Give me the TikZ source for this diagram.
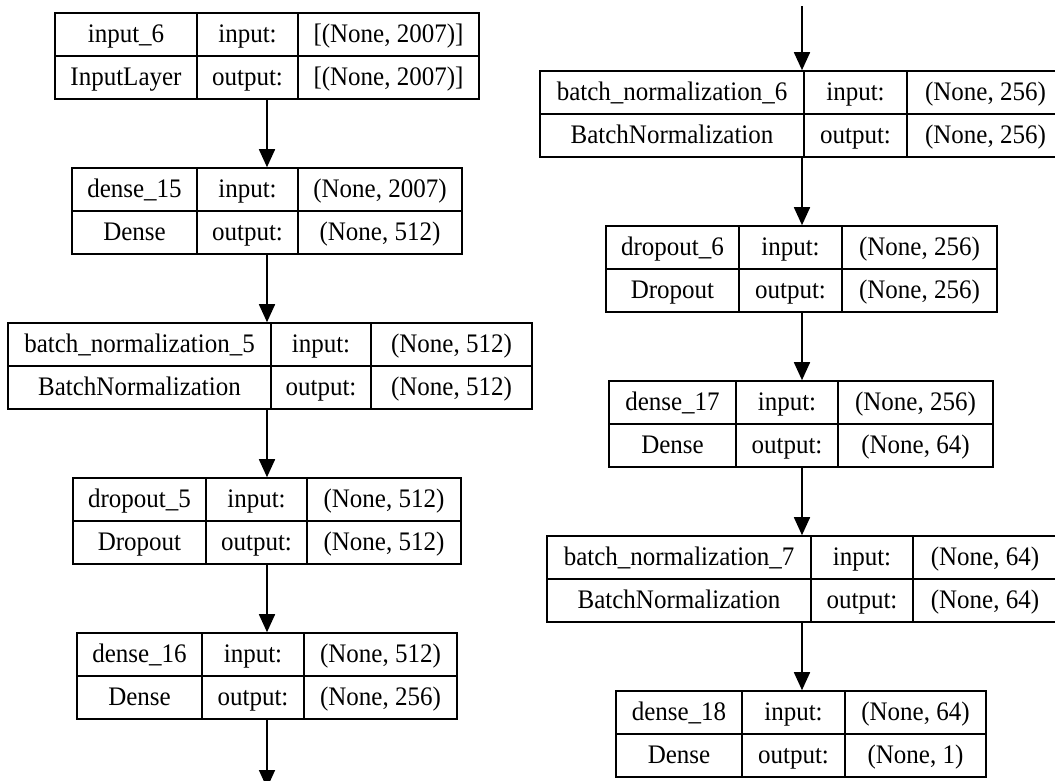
\documentclass[tikz,border=0pt]{standalone}
\usepackage{fontspec}
\setmainfont{Liberation Serif}
\usetikzlibrary{arrows.meta}
\newcommand\celltext[1]{\scalebox{1}[1.07]{#1}}
\tikzset{
  layerbox/.style={draw=black, line width=1.6pt, rectangle, inner sep=0pt, minimum height=86pt},
  cell/.style={anchor=base, inner sep=0pt, font=\fontsize{25}{30}\selectfont},
  divider/.style={line width=1.6pt},
  flow/.style={line width=1.7pt, -{Triangle[length=18pt,width=16pt]}},
}
\begin{document}
\begin{tikzpicture}[x=1pt,y=-1pt]
\useasboundingbox (0,0) rectangle (1055,780);
\clip (0,0) rectangle (1055,780);
\fill[white] (0,0) rectangle (1055,780);
\foreach \n/\xl/\da/\db/\xr/\yt/\nm/\ty/\ins/\outs in {
  L1/55/197/298/479/13/input\_6/InputLayer/{[(None, 2007)]}/{[(None, 2007)]},
  L2/72/197/298/462/168/dense\_15/Dense/{(None, 2007)}/{(None, 512)},
  L3/8/271/371/532/323/batch\_normalization\_5/BatchNormalization/{(None, 512)}/{(None, 512)},
  L4/73/206/307/461/478/dropout\_5/Dropout/{(None, 512)}/{(None, 512)},
  L5/77/202/304/457/633/dense\_16/Dense/{(None, 512)}/{(None, 256)},
  R6/540/804/907/1064/71/batch\_normalization\_6/BatchNormalization/{(None, 256)}/{(None, 256)},
  R7/606/739/842/997/226/dropout\_6/Dropout/{(None, 256)}/{(None, 256)},
  R8/609/736/838/993/381/dense\_17/Dense/{(None, 256)}/{(None, 64)},
  R9/547/811/913/1057/536/batch\_normalization\_7/BatchNormalization/{(None, 64)}/{(None, 64)},
  R10/616/742/845/986/691/dense\_18/Dense/{(None, 64)}/{(None, 1)}}
{
  \node[layerbox, minimum width=\xr pt-\xl pt] (\n) at ({(\xl+\xr)/2},{\yt+43}) {};
  \draw[divider] (\n.west) -- (\n.east);
  \draw[divider] (\da,\yt) -- (\da,\yt+86);
  \draw[divider] (\db,\yt) -- (\db,\yt+86);
  \node[cell] (\n-nm) at ({(\xl+\da)/2},{\yt+29}) {\celltext{\nm}};
  \node[cell] (\n-ty) at ({(\xl+\da)/2},{\yt+72}) {\celltext{\ty}};
  \node[cell] (\n-il) at ({(\da+\db)/2},{\yt+29}) {\celltext{input:}};
  \node[cell] (\n-ol) at ({(\da+\db)/2},{\yt+72}) {\celltext{output:}};
  \node[cell] (\n-iv) at ({(\db+\xr)/2},{\yt+29}) {\celltext{\ins}};
  \node[cell] (\n-ov) at ({(\db+\xr)/2},{\yt+72}) {\celltext{\outs}};
}
\coordinate (colL) at (267,0);
\coordinate (colR) at (802,0);
\coordinate (topR) at (802,6);
\coordinate (botL) at (267,788);
\draw[flow] (L1.south -| colL) -- (L2.north -| colL);
\draw[flow] (L2.south -| colL) -- (L3.north -| colL);
\draw[flow] (L3.south -| colL) -- (L4.north -| colL);
\draw[flow] (L4.south -| colL) -- (L5.north -| colL);
\draw[flow] (L5.south -| colL) -- (botL);
\draw[flow] (topR) -- (R6.north -| colR);
\draw[flow] (R6.south -| colR) -- (R7.north -| colR);
\draw[flow] (R7.south -| colR) -- (R8.north -| colR);
\draw[flow] (R8.south -| colR) -- (R9.north -| colR);
\draw[flow] (R9.south -| colR) -- (R10.north -| colR);
\end{tikzpicture}
\end{document}
